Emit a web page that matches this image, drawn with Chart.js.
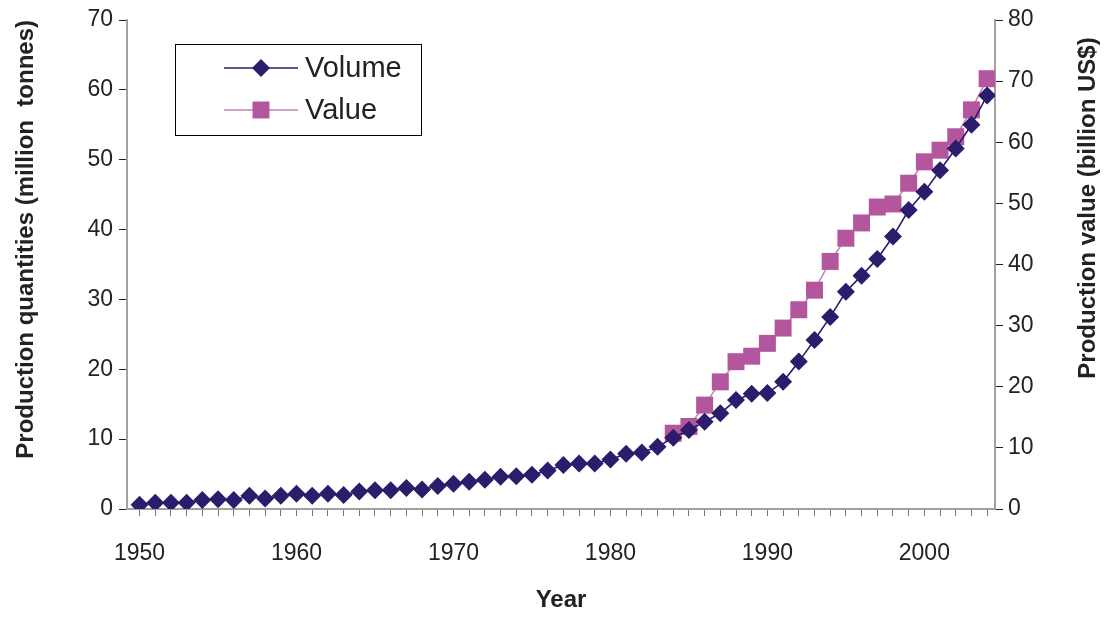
<!DOCTYPE html>
<html>
<head>
<meta charset="utf-8">
<script src="https://cdn.jsdelivr.net/npm/chart.js"></script>
<style>
  html, body { margin: 0; padding: 0; background: #fff; }
  #wrap { width: 1110px; height: 618px; position: relative; }
</style>
</head>
<body>
<div id="wrap"><canvas id="chart" width="1110" height="618"></canvas></div>
<script>
// Data <-------------------------------------------------------------->
const years = [];
for (let y = 1950; y <= 2004; y++) years.push(y);

// million tonnes, 1950-2004
const volume = [
  0.6, 0.9, 0.9, 0.9, 1.3, 1.4, 1.3, 1.9, 1.5, 1.9,
  2.2, 1.9, 2.2, 2.0, 2.5, 2.7, 2.7, 3.0, 2.8, 3.3,
  3.6, 3.9, 4.2, 4.6, 4.7, 4.9, 5.5, 6.3, 6.5, 6.5,
  7.1, 7.9, 8.1, 8.9, 10.2, 11.3, 12.5, 13.7, 15.6, 16.5,
  16.6, 18.2, 21.1, 24.2, 27.5, 31.1, 33.4, 35.8, 39.0, 42.8,
  45.4, 48.5, 51.6, 55.0, 59.2
];

// billion US$, 1984-2004
const valueStart = 1984;
const value = [
  12.4, 13.5, 17.0, 20.8, 24.1, 25.0, 27.1, 29.6, 32.6, 35.8,
  40.5, 44.3, 46.8, 49.4, 49.9, 53.3, 56.8, 58.7, 60.9, 65.3,
  70.4
];

const leftTicks = [0, 10, 20, 30, 40, 50, 60, 70];
const rightTicks = [0, 10, 20, 30, 40, 50, 60, 70, 80];

const volumeColor = '#2c1c6c';
const valueColor = '#b4569e';
const valueLine = '#bf82b4';
const fontFamily = '"Liberation Sans", Arial, sans-serif';

// Legend box + right axis title drawn by hand <--------------------------->
const extras = {
  id: 'extras',
  afterDraw(chart) {
    const ctx = chart.ctx;
    ctx.save();
    // legend frame
    ctx.strokeStyle = '#000';
    ctx.lineWidth = 1;
    ctx.strokeRect(175.5, 44.5, 246, 91);

    chart.data.datasets.forEach((ds, i) => {
      const y = 68 + i * 42;
      ctx.strokeStyle = ds.borderColor;
      ctx.lineWidth = ds.borderWidth;
      ctx.beginPath();
      ctx.moveTo(224, y);
      ctx.lineTo(298, y);
      ctx.stroke();
      ctx.fillStyle = ds.pointBackgroundColor;
      const r = ds.pointRadius;
      ctx.beginPath();
      if (ds.pointStyle === 'rectRot') {
        ctx.moveTo(261, y - r);
        ctx.lineTo(261 + r, y);
        ctx.lineTo(261, y + r);
        ctx.lineTo(261 - r, y);
      } else {
        const s = r * Math.SQRT1_2;
        ctx.rect(261 - s, y - s, 2 * s, 2 * s);
      }
      ctx.closePath();
      ctx.fill();
      ctx.fillStyle = '#222';
      ctx.font = '29px ' + fontFamily;
      ctx.textBaseline = 'middle';
      ctx.textAlign = 'left';
      ctx.fillText(ds.label, 305, y + 1);
    });

    // right axis title, read bottom to top
    ctx.translate(1088, 208);
    ctx.rotate(-Math.PI / 2);
    ctx.fillStyle = '#222';
    ctx.font = 'bold 24px ' + fontFamily;
    ctx.textAlign = 'center';
    ctx.textBaseline = 'middle';
    ctx.fillText('Production value (billion US$)', 0, 0);
    ctx.restore();
  }
};

const ctx = document.getElementById('chart').getContext('2d');

new Chart(ctx, {
  type: 'line',
  data: {
    datasets: [
      {
        label: 'Volume',
        data: volume.map((v, i) => ({ x: years[i], y: v })),
        yAxisID: 'y',
        borderColor: volumeColor,
        borderWidth: 1.6,
        pointStyle: 'rectRot',
        pointRadius: 9,
        pointBackgroundColor: volumeColor,
        pointBorderColor: volumeColor,
        pointBorderWidth: 0,
        tension: 0
      },
      {
        label: 'Value',
        data: value.map((v, i) => ({ x: valueStart + i, y: v })),
        yAxisID: 'y2',
        borderColor: valueLine,
        borderWidth: 1.5,
        pointStyle: 'rect',
        pointRadius: 12,
        pointBackgroundColor: valueColor,
        pointBorderColor: valueColor,
        pointBorderWidth: 0,
        tension: 0
      }
    ]
  },
  options: {
    responsive: false,
    animation: false,
    layout: { padding: { top: 20, left: 0, right: 0, bottom: 0 } },
    plugins: {
      legend: { display: false },
      tooltip: { enabled: false }
    },
    scales: {
      x: {
        type: 'linear',
        min: 1949.2,
        max: 2004.5,
        afterBuildTicks: (scale) => { scale.ticks = years.map(v => ({ value: v })); },
        afterFit: (scale) => { scale.height = 109; },
        ticks: {
          autoSkip: false,
          maxRotation: 0,
          padding: 24,
          color: '#222',
          font: { family: fontFamily, size: 23 },
          callback: (v) => (v % 10 === 0 ? String(v) : '')
        },
        grid: { drawOnChartArea: false, color: '#777', tickLength: 7 },
        border: { color: '#a0a0a0', width: 2 },
        title: {
          display: true,
          text: 'Year',
          color: '#222',
          font: { family: fontFamily, size: 24, weight: 'bold' },
          padding: { top: 0, bottom: 3 }
        }
      },
      y: {
        position: 'left',
        min: 0,
        max: 70,
        afterBuildTicks: (scale) => { scale.ticks = leftTicks.map(v => ({ value: v })); },
        afterFit: (scale) => { scale.width = 127; },
        ticks: {
          padding: 6,
          color: '#222',
          font: { family: fontFamily, size: 23 }
        },
        grid: { drawOnChartArea: false, color: '#222', tickLength: 8 },
        border: { color: '#a0a0a0', width: 2 },
        title: {
          display: true,
          text: 'Production quantities (million  tonnes)',
          align: 'end',
          color: '#222',
          font: { family: fontFamily, size: 24, weight: 'bold' },
          padding: { top: 12, bottom: 0 }
        }
      },
      y2: {
        position: 'right',
        min: 0,
        max: 80,
        afterBuildTicks: (scale) => { scale.ticks = rightTicks.map(v => ({ value: v })); },
        afterFit: (scale) => { scale.width = 115; },
        ticks: {
          padding: 5,
          color: '#222',
          font: { family: fontFamily, size: 23 }
        },
        grid: { drawOnChartArea: false, color: '#222', tickLength: 8 },
        border: { color: '#a0a0a0', width: 2 }
      }
    }
  },
  plugins: [extras]
});
</script>
</body>
</html>
